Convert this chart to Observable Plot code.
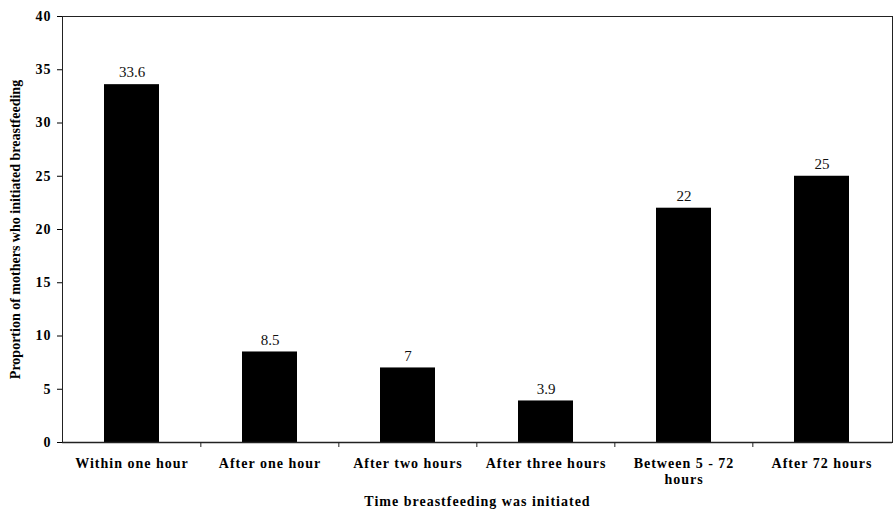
<!DOCTYPE html>
<html>
<head>
<meta charset="utf-8">
<script src="https://cdn.jsdelivr.net/npm/d3@7"></script>
<script src="https://cdn.jsdelivr.net/npm/@observablehq/plot@0.6"></script>
<style>
  html, body { margin: 0; padding: 0; background: #fff; }
  svg { display: block; }
  g[aria-label="x-axis tick label"] text,
  g[aria-label="y-axis tick label"] text,
  g[aria-label="x-axis label"] text { letter-spacing: 1px; }
</style>
</head>
<body>
<div id="chart"></div>
<script>
const categories = ["Within one hour", "After one hour", "After two hours", "After three hours", "Between 5 - 72 hours", "After 72 hours"];
const tickLabels = ["Within one hour", "After one hour", "After two hours", "After three hours", "Between 5 - 72\nhours", "After 72 hours"];
const values = [33.6, 8.5, 7, 3.9, 22, 25];
const yTicks = [0, 5, 10, 15, 20, 25, 30, 35, 40];

const data = categories.map((c, i) => ({cat: c, value: values[i], label: tickLabels[i]}));

const W = 893, H = 509;
const mL = 62, mR = 1, mT = 16, mB = 67;
const step = (W - mL - mR) / categories.length;
const boundaries = categories.slice(1);

const chart = Plot.plot({
  width: W,
  height: H,
  marginLeft: mL,
  marginRight: mR,
  marginTop: mT,
  marginBottom: mB,
  style: {fontFamily: "'Liberation Serif', 'Times New Roman', serif", background: "#fff", color: "#000"},
  x: {domain: categories, paddingInner: 0.6, paddingOuter: 0.3},
  y: {domain: [0, 40]},
  marks: [
    Plot.frame({stroke: "#222", strokeWidth: 1}),
    Plot.barY(data, {x: "cat", y: "value", fill: "#000"}),
    Plot.text(data, {x: "cat", y: "value", text: d => String(d.value), dy: -12, fontSize: 15, fill: "#111"}),
    Plot.ruleX(boundaries, {x: d => d, dx: -step / 2, y1: 0, y2: 0, insetBottom: -5, stroke: "#222"}),
    Plot.ruleY([0], {stroke: "#222", strokeWidth: 1.5}),
    Plot.axisY({ticks: yTicks, tickSize: 5, tickPadding: 6, fontSize: 14, fontWeight: "bold",
      label: "Proportion of mothers who initiated breastfeeding", labelAnchor: "center", labelOffset: 52, labelArrow: "none"}),
    Plot.axisX({tickSize: 0, tickPadding: 15, fontSize: 14, fontWeight: "bold", lineHeight: 1.1,
      tickFormat: c => tickLabels[categories.indexOf(c)],
      label: "Time breastfeeding was initiated", labelAnchor: "center", labelOffset: 63, labelArrow: "none"})
  ]
});
document.getElementById("chart").appendChild(chart);
</script>
</body>
</html>
